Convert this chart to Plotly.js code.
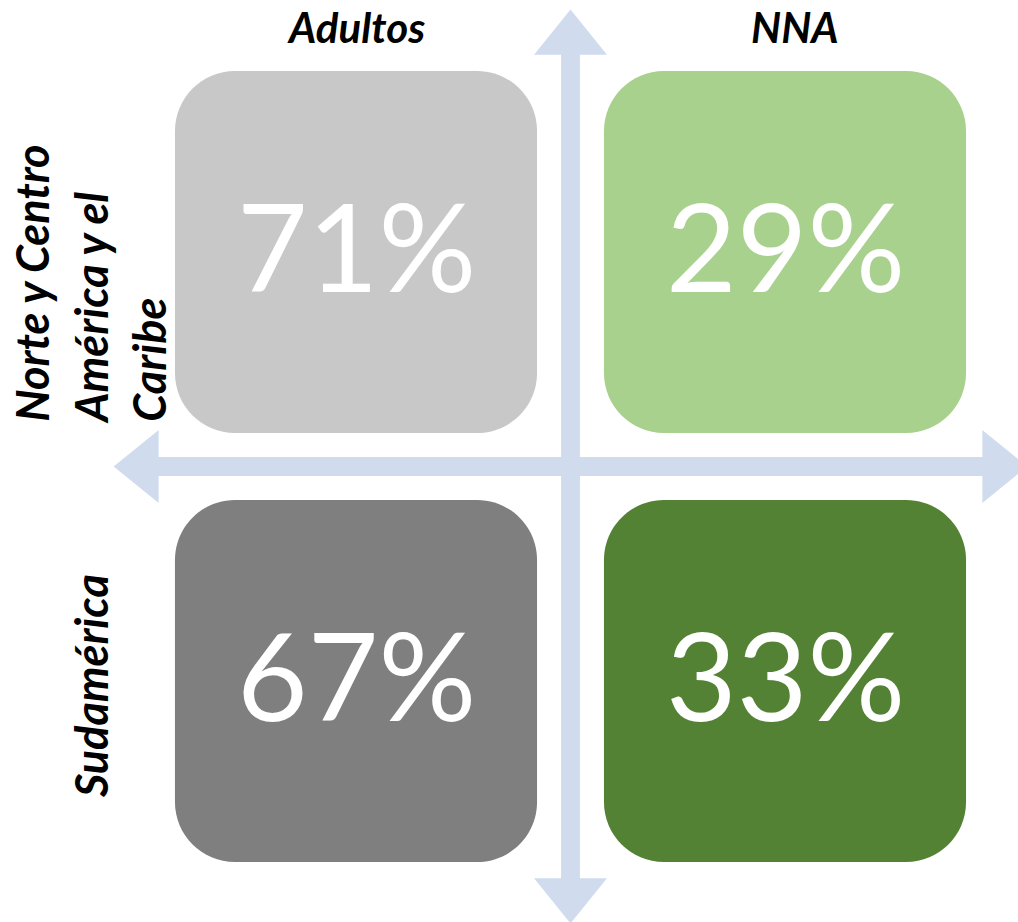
<!DOCTYPE html>
<html>
<head>
<meta charset="utf-8">
<script src="https://cdn.plot.ly/plotly-3.0.1.min.js"></script>
<style>html,body{margin:0;padding:0;background:#fff;}#chart{width:1018px;height:922px;}</style>
</head>
<body>
<div id="chart"></div>
<script>
// ---- data ----
const columnLabels = ['Adultos', 'NNA'];
const rowLabels = ['Norte y Centro<br>América y el<br>Caribe', 'Sudamérica'];
const rowNorte = [71, 29];       // Adultos, NNA
const rowSudamerica = [67, 33];  // Adultos, NNA
const values = [rowNorte, rowSudamerica];

// ---- styles ----
const cellColors = [['#C8C8C8', '#A9D18E'], ['#7F7F7F', '#548235']];
const arrowColor = '#D0DCEE';
const half = 0.422;       // half cell size (axis units)
const radius = 0.14;      // corner radius (axis units)

function roundedRect(cx, cy, h, r) {
  const k = 0.5523 * r;
  const x0 = cx - h, x1 = cx + h, y0 = cy - h, y1 = cy + h;
  return `M ${x0 + r} ${y0} L ${x1 - r} ${y0} C ${x1 - r + k} ${y0} ${x1} ${y0 + r - k} ${x1} ${y0 + r} ` +
    `L ${x1} ${y1 - r} C ${x1} ${y1 - r + k} ${x1 - r + k} ${y1} ${x1 - r} ${y1} ` +
    `L ${x0 + r} ${y1} C ${x0 + r - k} ${y1} ${x0} ${y1 - r + k} ${x0} ${y1 - r} ` +
    `L ${x0} ${y0 + r} C ${x0} ${y0 + r - k} ${x0 + r - k} ${y0} ${x0 + r} ${y0} Z`;
}

const shapes = [];
// cross arrows (double-headed), centred between the two columns / rows
const mid = 0.5, a0 = -0.565, a1 = 1.565, sw = 0.022, hw = 0.085, hl = 0.105;
shapes.push({type: 'path', xref: 'x', yref: 'y', fillcolor: arrowColor, line: {width: 0}, layer: 'below',
  path: `M ${mid} ${a0} L ${mid + hw} ${a0 + hl} L ${mid + sw} ${a0 + hl} L ${mid + sw} ${a1 - hl} L ${mid + hw} ${a1 - hl} ` +
        `L ${mid} ${a1} L ${mid - hw} ${a1 - hl} L ${mid - sw} ${a1 - hl} L ${mid - sw} ${a0 + hl} L ${mid - hw} ${a0 + hl} Z`});
shapes.push({type: 'path', xref: 'x', yref: 'y', fillcolor: arrowColor, line: {width: 0}, layer: 'below',
  path: `M ${a0} ${mid} L ${a0 + hl} ${mid + hw} L ${a0 + hl} ${mid + sw} L ${a1 - hl} ${mid + sw} L ${a1 - hl} ${mid + hw} ` +
        `L ${a1} ${mid} L ${a1 - hl} ${mid - hw} L ${a1 - hl} ${mid - sw} L ${a0 + hl} ${mid - sw} L ${a0 + hl} ${mid - hw} Z`});

const annotations = [];
values.forEach((row, r) => {
  row.forEach((v, c) => {
    shapes.push({type: 'path', xref: 'x', yref: 'y', path: roundedRect(c, r, half, radius),
      fillcolor: cellColors[r][c], line: {width: 0}});
    annotations.push({x: c, y: r, xref: 'x', yref: 'y', text: v + '%', showarrow: false,
      yshift: 7, font: {family: 'Lato', size: 122, color: '#FFFFFF'}});
  });
});

columnLabels.forEach((t, c) => {
  annotations.push({x: c, y: 1, xref: 'x', yref: 'paper', yanchor: 'top', text: '<b><i>' + t + '</i></b>', showarrow: false,
    xshift: c === 1 ? 10 : 0, font: {family: 'Lato', size: 42, color: '#000000'}});
});
const rowLabelY = [0.074, 0.012];
rowLabels.forEach((t, r) => {
  annotations.push({x: -0.618, y: r + rowLabelY[r], xref: 'x', yref: 'y', text: '<b><i>' + t + '</i></b>', showarrow: false,
    textangle: -90, align: 'left', font: {family: 'Lato', size: 45, color: '#000000'}});
});

const layout = {
  width: 1018, height: 922,
  margin: {l: 0, r: 0, t: 0, b: 0, pad: 0},
  paper_bgcolor: '#FFFFFF', plot_bgcolor: '#FFFFFF',
  showlegend: false,
  xaxis: {range: [-356 / 429, 662 / 429], visible: false, showgrid: false, zeroline: false, fixedrange: true},
  yaxis: {range: [670 / 429, -252 / 429], visible: false, showgrid: false, zeroline: false, fixedrange: true},
  shapes: shapes,
  annotations: annotations
};

Plotly.newPlot('chart', [{x: [0, 1], y: [0, 1], type: 'scatter', mode: 'markers', marker: {opacity: 0}, hoverinfo: 'skip'}],
  layout, {staticPlot: true, displayModeBar: false});
</script>
</body>
</html>
